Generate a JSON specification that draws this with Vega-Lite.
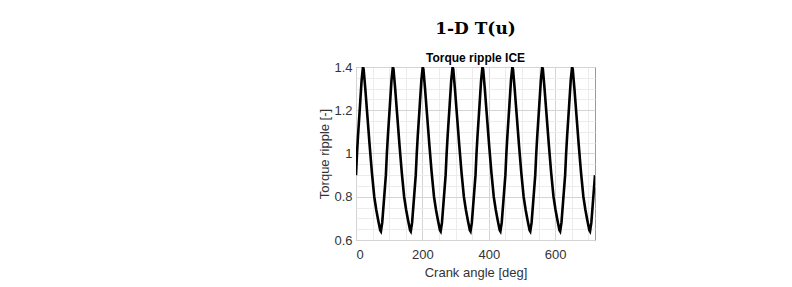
{
  "$schema": "https://vega.github.io/schema/vega-lite/v6.json",
  "autosize": {"type": "none"},
  "width": 239,
  "height": 173,
  "padding": {"left": 356, "top": 67, "right": 197, "bottom": 47},
  "background": "white",
  "title": {
    "text": "1-D T(u)",
    "subtitle": "Torque ripple ICE",
    "anchor": "middle",
    "font": "DejaVu Serif",
    "fontSize": 17,
    "fontWeight": "bold",
    "color": "black",
    "subtitleFont": "Liberation Sans",
    "subtitleFontSize": 12,
    "subtitleFontWeight": "bold",
    "subtitleColor": "black",
    "subtitlePadding": 15,
    "offset": -4
  },
  "data": {"values": [
    {"a": 0, "t": 0.90}, {"a": 3, "t": 1.00}, {"a": 6, "t": 1.08}, {"a": 12, "t": 1.22}, {"a": 17, "t": 1.34}, {"a": 21, "t": 1.40}, {"a": 23, "t": 1.39}, {"a": 28, "t": 1.30}, {"a": 34, "t": 1.18}, {"a": 41, "t": 1.04}, {"a": 48, "t": 0.91}, {"a": 55, "t": 0.80}, {"a": 61, "t": 0.74}, {"a": 67, "t": 0.69}, {"a": 73, "t": 0.645}, {"a": 75, "t": 0.64}, {"a": 79, "t": 0.68}, {"a": 84, "t": 0.78},
    {"a": 90, "t": 0.90}, {"a": 93, "t": 1.00}, {"a": 96, "t": 1.08}, {"a": 102, "t": 1.22}, {"a": 107, "t": 1.34}, {"a": 111, "t": 1.40}, {"a": 113, "t": 1.39}, {"a": 118, "t": 1.30}, {"a": 124, "t": 1.18}, {"a": 131, "t": 1.04}, {"a": 138, "t": 0.91}, {"a": 145, "t": 0.80}, {"a": 151, "t": 0.74}, {"a": 157, "t": 0.69}, {"a": 163, "t": 0.645}, {"a": 165, "t": 0.64}, {"a": 169, "t": 0.68}, {"a": 174, "t": 0.78},
    {"a": 180, "t": 0.90}, {"a": 183, "t": 1.00}, {"a": 186, "t": 1.08}, {"a": 192, "t": 1.22}, {"a": 197, "t": 1.34}, {"a": 201, "t": 1.40}, {"a": 203, "t": 1.39}, {"a": 208, "t": 1.30}, {"a": 214, "t": 1.18}, {"a": 221, "t": 1.04}, {"a": 228, "t": 0.91}, {"a": 235, "t": 0.80}, {"a": 241, "t": 0.74}, {"a": 247, "t": 0.69}, {"a": 253, "t": 0.645}, {"a": 255, "t": 0.64}, {"a": 259, "t": 0.68}, {"a": 264, "t": 0.78},
    {"a": 270, "t": 0.90}, {"a": 273, "t": 1.00}, {"a": 276, "t": 1.08}, {"a": 282, "t": 1.22}, {"a": 287, "t": 1.34}, {"a": 291, "t": 1.40}, {"a": 293, "t": 1.39}, {"a": 298, "t": 1.30}, {"a": 304, "t": 1.18}, {"a": 311, "t": 1.04}, {"a": 318, "t": 0.91}, {"a": 325, "t": 0.80}, {"a": 331, "t": 0.74}, {"a": 337, "t": 0.69}, {"a": 343, "t": 0.645}, {"a": 345, "t": 0.64}, {"a": 349, "t": 0.68}, {"a": 354, "t": 0.78},
    {"a": 360, "t": 0.90}, {"a": 363, "t": 1.00}, {"a": 366, "t": 1.08}, {"a": 372, "t": 1.22}, {"a": 377, "t": 1.34}, {"a": 381, "t": 1.40}, {"a": 383, "t": 1.39}, {"a": 388, "t": 1.30}, {"a": 394, "t": 1.18}, {"a": 401, "t": 1.04}, {"a": 408, "t": 0.91}, {"a": 415, "t": 0.80}, {"a": 421, "t": 0.74}, {"a": 427, "t": 0.69}, {"a": 433, "t": 0.645}, {"a": 435, "t": 0.64}, {"a": 439, "t": 0.68}, {"a": 444, "t": 0.78},
    {"a": 450, "t": 0.90}, {"a": 453, "t": 1.00}, {"a": 456, "t": 1.08}, {"a": 462, "t": 1.22}, {"a": 467, "t": 1.34}, {"a": 471, "t": 1.40}, {"a": 473, "t": 1.39}, {"a": 478, "t": 1.30}, {"a": 484, "t": 1.18}, {"a": 491, "t": 1.04}, {"a": 498, "t": 0.91}, {"a": 505, "t": 0.80}, {"a": 511, "t": 0.74}, {"a": 517, "t": 0.69}, {"a": 523, "t": 0.645}, {"a": 525, "t": 0.64}, {"a": 529, "t": 0.68}, {"a": 534, "t": 0.78},
    {"a": 540, "t": 0.90}, {"a": 543, "t": 1.00}, {"a": 546, "t": 1.08}, {"a": 552, "t": 1.22}, {"a": 557, "t": 1.34}, {"a": 561, "t": 1.40}, {"a": 563, "t": 1.39}, {"a": 568, "t": 1.30}, {"a": 574, "t": 1.18}, {"a": 581, "t": 1.04}, {"a": 588, "t": 0.91}, {"a": 595, "t": 0.80}, {"a": 601, "t": 0.74}, {"a": 607, "t": 0.69}, {"a": 613, "t": 0.645}, {"a": 615, "t": 0.64}, {"a": 619, "t": 0.68}, {"a": 624, "t": 0.78},
    {"a": 630, "t": 0.90}, {"a": 633, "t": 1.00}, {"a": 636, "t": 1.08}, {"a": 642, "t": 1.22}, {"a": 647, "t": 1.34}, {"a": 651, "t": 1.40}, {"a": 653, "t": 1.39}, {"a": 658, "t": 1.30}, {"a": 664, "t": 1.18}, {"a": 671, "t": 1.04}, {"a": 678, "t": 0.91}, {"a": 685, "t": 0.80}, {"a": 691, "t": 0.74}, {"a": 697, "t": 0.69}, {"a": 703, "t": 0.645}, {"a": 705, "t": 0.64}, {"a": 709, "t": 0.68}, {"a": 714, "t": 0.78},
    {"a": 720, "t": 0.90}
  ]},
  "mark": {"type": "line", "color": "black", "strokeWidth": 2.6, "clip": true},
  "encoding": {
    "x": {
      "field": "a", "type": "quantitative",
      "scale": {"domain": [0, 720], "nice": false, "zero": false},
      "axis": {
        "title": "Crank angle [deg]",
        "values": [0, 50, 100, 150, 200, 250, 300, 350, 400, 450, 500, 550, 600, 650, 700],
        "labelExpr": "datum.value % 200 === 0 ? datum.label : ''",
        "grid": true,
        "gridColor": {"condition": {"test": "datum.value % 200 === 0", "value": "#d4d4d4"}, "value": "#ececec"},
        "ticks": false,
        "domain": false,
        "labelPadding": 8,
        "titlePadding": 5
      }
    },
    "y": {
      "field": "t", "type": "quantitative",
      "scale": {"domain": [0.6, 1.4], "nice": false, "zero": false},
      "axis": {
        "title": "Torque ripple [-]",
        "values": [0.6, 0.65, 0.7, 0.75, 0.8, 0.85, 0.9, 0.95, 1.0, 1.05, 1.1, 1.15, 1.2, 1.25, 1.3, 1.35, 1.4],
        "labelExpr": "round(datum.value * 100) % 20 === 0 ? datum.label : ''",
        "format": ".1~f",
        "grid": true,
        "gridColor": {"condition": {"test": "round(datum.value * 100) % 20 === 0", "value": "#d4d4d4"}, "value": "#ececec"},
        "ticks": false,
        "domain": false,
        "labelPadding": 4,
        "titlePadding": 2
      }
    }
  },
  "config": {
    "view": {"stroke": "#9a9a9a", "strokeWidth": 1},
    "axis": {
      "labelFont": "Liberation Sans",
      "labelFontSize": 13,
      "labelColor": "#333333",
      "titleFont": "Liberation Sans",
      "titleFontSize": 13,
      "titleFontWeight": "normal",
      "titleColor": "#333333",
      "gridWidth": 1
    }
  }
}
